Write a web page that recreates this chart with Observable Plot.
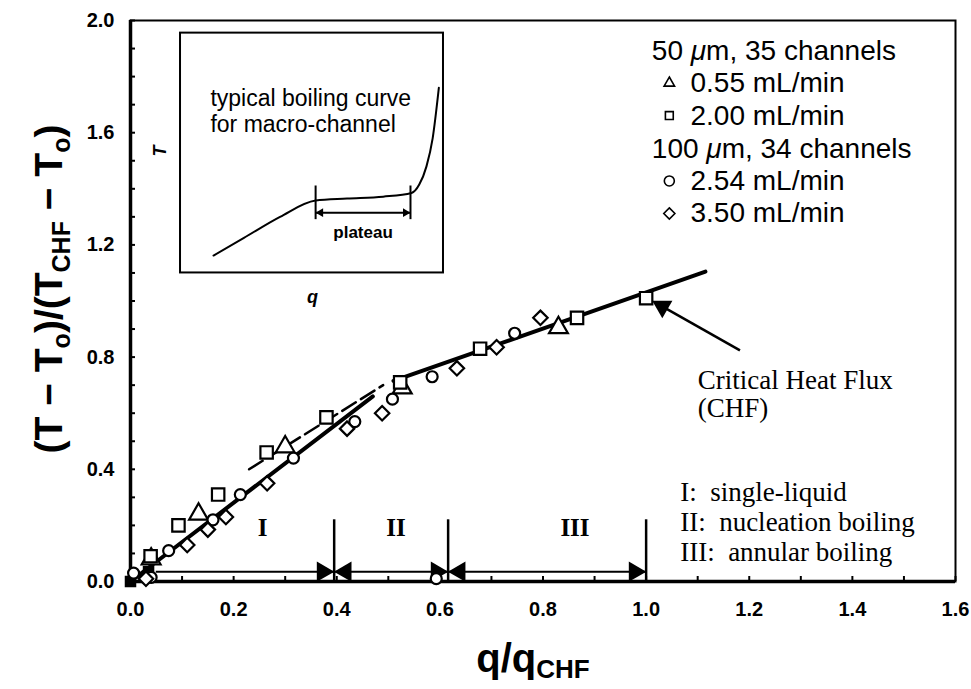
<!DOCTYPE html>
<html><head><meta charset="utf-8">
<script src="https://cdn.jsdelivr.net/npm/d3@7"></script>
<script src="https://cdn.jsdelivr.net/npm/@observablehq/plot@0.6"></script>
<style>
body{margin:0;background:#fff;}
svg{display:block;}
text{white-space:pre;}
</style></head><body><div id="chart"></div>
<script>
// ---- tick values ----
const xMajor = [0, 0.2, 0.4, 0.6, 0.8, 1.0, 1.2, 1.4, 1.6];
const xMinor = d3.range(0, 1.61, 0.1);
const yMajor = [0, 0.4, 0.8, 1.2, 1.6, 2.0];
const yMinor = d3.range(0, 2.01, 0.1);

// ---- series (q/qCHF, normalized T) ----
const triQ = [0.04, 0.132, 0.30, 0.527, 0.83];
const triT = [0.08, 0.24, 0.48, 0.69, 0.905];
const sqQ = [0.039, 0.093, 0.17, 0.264, 0.38, 0.523, 0.678, 0.866, 1.0];
const sqT = [0.09, 0.20, 0.31, 0.46, 0.585, 0.71, 0.83, 0.94, 1.01];
const ciQ = [0.006, 0.04, 0.074, 0.16, 0.213, 0.316, 0.435, 0.508, 0.585, 0.745, 0.593];
const ciT = [0.03, 0.015, 0.11, 0.22, 0.31, 0.44, 0.57, 0.65, 0.73, 0.885, 0.01];
const diQ = [0.03, 0.11, 0.15, 0.185, 0.265, 0.42, 0.488, 0.633, 0.71, 0.795];
const diT = [0.01, 0.13, 0.185, 0.23, 0.35, 0.545, 0.60, 0.76, 0.835, 0.94];
const filledQ = [0, 0.035];
const filledT = [0, 0.035];

// ---- fitted lines ----
const fitIQ = [0, 0.47], fitIT = [0, 0.66];
const fitIIQ = [0.23, 0.49], fitIIT = [0.40, 0.70];
const fitIIIQ = [0.51, 1.115], fitIIIT = [0.715, 1.105];

// ---- regimes ----
const regimeNames = ["I", "II", "III"];
const regimeLabelQ = [0.256, 0.515, 0.862];
const regimeBounds = [0.395, 0.616, 1.0];
const regimeStart = 0.05;
const regimeArrowT = 0.035;
const regimeBarTop = 0.22;
const regimeLabelT = 0.19;
const rightHeads = [0.395, 0.616, 1.0];
const leftHeads = [0.395, 0.616];
const regimeTexts = ["I:  single-liquid", "II:  nucleation boiling", "III:  annular boiling"];
const regimeTextT = [0.317, 0.21, 0.105];

// ---- inset schematic (typical boiling curve) ----
const insetBox = {q1: 0.097, q2: 0.607, t1: 1.10, t2: 1.955};
const insetCurveQ = [0.161, 0.22, 0.29, 0.359, 0.42, 0.49, 0.545, 0.56, 0.574, 0.586, 0.598];
const insetCurveT = [1.162, 1.225, 1.30, 1.358, 1.365, 1.372, 1.385, 1.415, 1.48, 1.58, 1.76];
const plateauBars = [0.359, 0.543];

// ---- legend ----
const legendHeaders = [["50 ", "μ", "m, 35 channels"], ["100 ", "μ", "m, 34 channels"]];
const legendHeaderT = [1.893, 1.544];
const legendLabels = ["0.55 mL/min", "2.00 mL/min", "2.54 mL/min", "3.50 mL/min"];
const legendSymbols = ["triangle2", "square2", "circle", "diamond2"];
const legendT = [1.777, 1.661, 1.428, 1.312];

// ---- CHF annotation ----
const chfTail = {q: 1.182, t: 0.824};
const chfTip = {q: 1.012, t: 1.0};

const pts = (Q, T) => Q.map((q, i) => ({q, t: T[i]}));

const serif = "Liberation Serif, Times New Roman, serif";
const sans = "Liberation Sans, Arial, sans-serif";

const plot = Plot.plot({
  width: 971, height: 689,
  marginLeft: 130, marginRight: 16, marginTop: 20, marginBottom: 108,
  x: {domain: [0, 1.6]},
  y: {domain: [0, 2]},
  style: {fontFamily: sans, background: "white", color: "black"},
  marks: [
    // axes
    Plot.axisX({ticks: xMinor, tickSize: -5, tickFormat: () => "", label: null, strokeWidth: 2}),
    Plot.axisX({ticks: xMajor, tickSize: 0, tickPadding: 20, tickFormat: d3.format(".1f"), label: null, fontSize: 20, fontWeight: "bold"}),
    Plot.axisY({ticks: yMinor, tickSize: -5, tickFormat: () => "", label: null, strokeWidth: 2}),
    Plot.axisY({ticks: yMajor, tickSize: 0, tickPadding: 16, tickFormat: d3.format(".1f"), label: null, fontSize: 20, fontWeight: "bold"}),
    Plot.frame({strokeWidth: 2}),
    Plot.ruleX([0], {strokeWidth: 3.5}),
    Plot.ruleY([0], {strokeWidth: 3.5}),

    // inset
    Plot.rect([insetBox], {x1: "q1", x2: "q2", y1: "t1", y2: "t2", fill: "white", stroke: "black", strokeWidth: 2}),
    Plot.line(pts(insetCurveQ, insetCurveT), {x: "q", y: "t", curve: "monotone-x", strokeWidth: 2}),
    Plot.ruleX(plateauBars, {y1: 1.29, y2: 1.41, strokeWidth: 2}),
    Plot.ruleY([1.315], {x1: plateauBars[0], x2: plateauBars[1], strokeWidth: 2}),
    Plot.dot([plateauBars[0]], {x: d => d, y: 1.315, symbol: "triangle", rotate: -90, r: 3.2, fill: "black", dx: 5}),
    Plot.dot([plateauBars[1]], {x: d => d, y: 1.315, symbol: "triangle", rotate: 90, r: 3.2, fill: "black", dx: -5}),
    Plot.text(["plateau"], {x: (plateauBars[0] + plateauBars[1]) / 2, y: 1.245, text: d => d, fontSize: 17, fontWeight: "bold"}),
    Plot.text(["typical boiling curve", "for macro-channel"], {x: 0.155, y: (d, i) => [1.72, 1.63][i], text: d => d, textAnchor: "start", fontSize: 23}),
    Plot.text(["T"], {x: 0.058, y: 1.535, text: d => d, rotate: -90, fontSize: 18, fontWeight: "bold", fontStyle: "italic"}),
    Plot.text(["q"], {x: 0.353, y: 1.012, text: d => d, fontSize: 18, fontWeight: "bold", fontStyle: "italic"}),

    // regime arrows
    Plot.ruleY([regimeArrowT], {x1: regimeStart, x2: 1.0, strokeWidth: 2}),
    Plot.ruleX(regimeBounds, {y1: 0, y2: regimeBarTop, strokeWidth: 2.5}),
    Plot.dot(rightHeads, {x: d => d, y: regimeArrowT, symbol: "triangle", rotate: 90, r: 7.5, fill: "black", dx: -11.5}),
    Plot.dot(leftHeads, {x: d => d, y: regimeArrowT, symbol: "triangle", rotate: -90, r: 7.5, fill: "black", dx: 11.5}),
    Plot.text(regimeNames, {x: (d, i) => regimeLabelQ[i], y: regimeLabelT, text: d => d, fontFamily: serif, fontSize: 25, fontWeight: "bold"}),
    Plot.text(regimeTexts, {x: 1.066, y: (d, i) => regimeTextT[i], text: d => d, textAnchor: "start", fontFamily: serif, fontSize: 27}),

    // fitted lines
    Plot.line(pts(fitIQ, fitIT), {x: "q", y: "t", strokeWidth: 4}),
    Plot.line(pts(fitIIQ, fitIIT), {x: "q", y: "t", strokeWidth: 2.5, strokeDasharray: "16,6"}),
    Plot.line(pts(fitIIIQ, fitIIIT), {x: "q", y: "t", strokeWidth: 4}),

    // data
    Plot.dot(pts(filledQ, filledT), {x: "q", y: "t", symbol: "square", r: 6.5, fill: "black"}),
    Plot.dot(pts(triQ, triT), {x: "q", y: "t", symbol: "triangle", r: 7, fill: "white", stroke: "black", strokeWidth: 2.2}),
    Plot.dot(pts(sqQ, sqT), {x: "q", y: "t", symbol: "square", r: 7, fill: "white", stroke: "black", strokeWidth: 2.2}),
    Plot.dot(pts(ciQ, ciT), {x: "q", y: "t", symbol: "circle", r: 5.5, fill: "white", stroke: "black", strokeWidth: 2.2}),
    Plot.dot(pts(diQ, diT), {x: "q", y: "t", symbol: "diamond2", r: 6.5, fill: "white", stroke: "black", strokeWidth: 2.2}),

    // legend
    Plot.dot(legendSymbols, {x: 1.045, y: (d, i) => legendT[i], symbol: d => d, r: 5, stroke: "black", fill: "white", strokeWidth: 1.6}),
    Plot.text(legendLabels, {x: 1.086, y: (d, i) => legendT[i], text: d => d, textAnchor: "start", fontSize: 28}),

    // CHF annotation
    Plot.link([0], {x1: chfTail.q, y1: chfTail.t, x2: chfTip.q + 0.02, y2: chfTip.t - 0.02, strokeWidth: 2.5}),
    Plot.dot([chfTip], {x: "q", y: "t", symbol: "triangle", r: 7.5, fill: "black", rotate: -60, dx: 10, dy: 5.7}),
    Plot.text(["Critical Heat Flux", "(CHF)"], {x: 1.1, y: (d, i) => [0.717, 0.617][i], text: d => d, textAnchor: "start", fontFamily: serif, fontSize: 27})
  ]
});
document.getElementById("chart").append(plot);

const svg = d3.select(plot);
const sx = plot.scale("x"), sy = plot.scale("y");

// legend headers with italic mu
legendHeaders.forEach((parts, i) => {
  const t = svg.append("text")
    .attr("x", sx.apply(1.012)).attr("y", sy.apply(legendHeaderT[i]))
    .attr("dy", "0.35em").attr("text-anchor", "start")
    .attr("font-family", sans).attr("font-size", 28).attr("fill", "black");
  t.append("tspan").text(parts[0]);
  t.append("tspan").attr("font-style", "italic").text(parts[1]);
  t.append("tspan").text(parts[2]);
});

// y axis title
const yt = svg.append("text")
  .attr("transform", "translate(62,289) rotate(-90)")
  .attr("text-anchor", "middle")
  .attr("font-family", sans).attr("font-size", 39).attr("font-weight", "bold").attr("fill", "black");
yt.append("tspan").text("(T − T");
yt.append("tspan").attr("font-size", 25).attr("dy", 8).text("o");
yt.append("tspan").attr("dy", -8).text(")/(T");
yt.append("tspan").attr("font-size", 25).attr("dy", 8).text("CHF");
yt.append("tspan").attr("dy", -8).text(" − T");
yt.append("tspan").attr("font-size", 25).attr("dy", 8).text("o");
yt.append("tspan").attr("dy", -8).text(")");

// x axis title
const xt = svg.append("text")
  .attr("x", 533).attr("y", 672)
  .attr("text-anchor", "middle")
  .attr("font-family", sans).attr("font-size", 40).attr("font-weight", "bold").attr("fill", "black");
xt.append("tspan").text("q/q");
xt.append("tspan").attr("font-size", 26).attr("dy", 6).text("CHF");
</script>
</body></html>
